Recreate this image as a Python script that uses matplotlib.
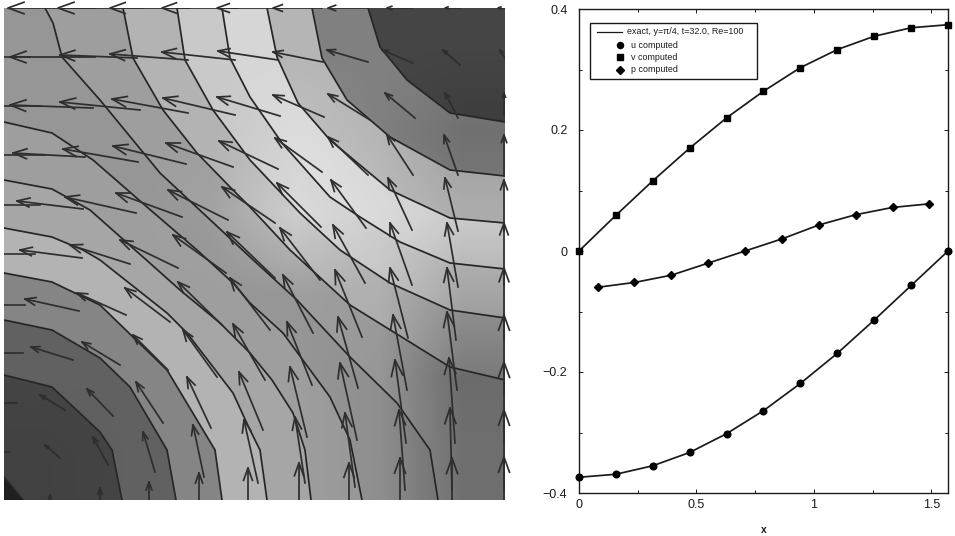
import numpy as np
import matplotlib
matplotlib.use("Agg")
import matplotlib.pyplot as plt
from matplotlib.patches import Rectangle

plt.rcParams['font.family'] = ['Liberation Sans', 'DejaVu Sans']

# right panel
x_uv = [0, 0.157, 0.314, 0.471, 0.628, 0.785, 0.942, 1.100, 1.257, 1.414, 1.571]
u_vals = [-0.374, -0.369, -0.355, -0.333, -0.302, -0.264, -0.219, -0.169, -0.114, -0.057, 0]
v_vals = [0, 0.059, 0.116, 0.170, 0.220, 0.264, 0.303, 0.333, 0.355, 0.369, 0.374]
x_p = [0.079, 0.236, 0.393, 0.550, 0.707, 0.864, 1.021, 1.178, 1.335, 1.492]
p_vals = [-0.060, -0.052, -0.040, -0.020, 0, 0.020, 0.043, 0.060, 0.072, 0.078]
x_ticks = [0, 0.5, 1, 1.5]
x_ticklabels = ['0', '0.5', '1', '1.5']
y_ticks = [-0.4, -0.2, 0, 0.2, 0.4]
y_ticklabels = ['\u22120.4', '\u22120.2', '0', '0.2', '0.4']
legend_labels = ['exact, y=\u03c0/4, t=32.0, Re=100', 'u computed', 'v computed', 'p computed']
legend_markers = [None, 'o', 's', 'D']

# left panel, contour lines as (x, y) readings, lower left corner first
contours = [
    [(4, 477), (23, 500)],
    [(4, 375), (52, 387), (100, 432), (112, 450), (122, 500)],
    [(4, 320), (52, 330), (100, 358), (130, 387), (167, 450), (176, 500)],
    [(4, 273), (52, 282), (100, 305), (133, 337), (167, 370), (215, 450), (222, 500)],
    [(4, 228), (52, 237), (83, 250), (100, 260), (167, 313), (187, 333), (233, 393), (250, 430), (260, 450), (267, 500)],
    [(4, 180), (52, 189), (90, 210), (143, 257), (180, 290), (220, 323), (250, 353), (272, 380), (293, 413), (305, 450), (311, 500)],
    [(4, 122), (52, 133), (93, 160), (147, 207), (197, 250), (233, 283), (250, 303), (283, 333), (330, 397), (350, 440), (362, 500)],
    [(45, 8), (53, 23), (62, 57), (100, 100), (160, 173), (250, 257), (297, 300), (350, 357), (397, 403), (430, 450), (438, 500)],
    [(123, 8), (133, 58), (163, 110), (197, 153), (230, 187), (250, 207), (290, 250), (350, 305), (450, 367), (505, 380)],
    [(177, 8), (185, 60), (213, 110), (250, 160), (300, 213), (340, 250), (390, 283), (450, 310), (505, 318)],
    [(222, 8), (230, 58), (250, 97), (282, 143), (330, 197), (360, 217), (400, 242), (450, 263), (505, 269)],
    [(267, 8), (277, 57), (298, 103), (330, 140), (390, 190), (450, 218), (505, 223)],
    [(312, 8), (322, 58), (347, 100), (390, 137), (450, 170), (505, 176)],
    [(368, 8), (380, 47), (407, 80), (450, 113), (505, 122)],
]
band_grays = [0.27, 0.38, 0.52, 0.70, 0.65, 0.62, 0.59, 0.62, 0.70, 0.79, 0.84, 0.71, 0.50, 0.27]
corner_gray = 0.13

# soft shading on top of the bands, rows y=8..500, columns x=4..505
dark_shade = [
    [0, 0, 0, 0, 0, 0],
    [0, 0, 0, 0, 0, 0.12],
    [0, 0, 0, 0, 0, 0.05],
    [0, 0, 0, 0, 0.02, 0.18],
    [0, 0, 0, 0, 0.05, 0.32],
    [0.05, 0, 0, 0, 0.05, 0.30],
]
light_shade = [
    [0, 0, 0, 0, 0, 0],
    [0, 0, 0, 0.15, 0, 0],
    [0, 0, 0.05, 0.35, 0.10, 0],
    [0, 0, 0, 0, 0, 0],
    [0, 0, 0, 0, 0, 0],
    [0, 0, 0, 0, 0, 0],
]

# left panel, arrows row by row
head_x = [
    [8, 58, 110, 162, 217, 273, 328, 387, 445, 498],
    [10, 60, 110, 162, 218, 273, 327, 382, 443, 500],
    [10, 60, 112, 163, 217, 273, 328, 385, 445, 504],
    [13, 63, 113, 166, 219, 275, 328, 387, 444, 504],
    [17, 65, 116, 168, 222, 277, 331, 388, 445, 504],
    [20, 70, 120, 173, 227, 280, 333, 390, 447, 504],
    [25, 77, 125, 178, 230, 283, 335, 390, 447, 504],
    [31, 82, 133, 183, 233, 287, 338, 393, 447, 504],
    [40, 87, 136, 187, 239, 290, 340, 395, 449, 504],
    [45, 93, 143, 193, 244, 295, 345, 399, 450, 504],
    [50, 100, 149, 199, 248, 299, 349, 400, 452, 504],
]
head_y = [
    [8, 8, 8, 8, 8, 8, 8, 8, 8, 8],
    [57, 55, 54, 52, 51, 52, 50, 50, 50, 50],
    [105, 102, 99, 98, 97, 95, 94, 93, 93, 93],
    [153, 149, 146, 143, 141, 138, 137, 135, 135, 135],
    [201, 197, 193, 190, 187, 183, 180, 178, 178, 180],
    [250, 245, 240, 235, 232, 228, 225, 223, 223, 223],
    [299, 293, 288, 282, 278, 275, 270, 268, 268, 268],
    [347, 342, 335, 330, 324, 322, 317, 315, 312, 315],
    [395, 389, 382, 377, 372, 367, 363, 360, 358, 362],
    [445, 437, 432, 425, 420, 417, 413, 410, 408, 410],
    [495, 488, 482, 473, 468, 463, 463, 458, 458, 457],
]
tail_x = [
    [95, 143, 190, 238, 282, 322, 368, 412, 460, 505],
    [95, 137, 188, 235, 278, 323, 368, 413, 460, 505],
    [93, 140, 188, 235, 280, 324, 370, 415, 458, 504],
    [85, 138, 186, 233, 278, 322, 368, 413, 458, 504],
    [83, 136, 182, 228, 275, 321, 366, 412, 458, 504],
    [82, 130, 178, 226, 275, 320, 365, 412, 458, 504],
    [79, 126, 170, 222, 270, 313, 362, 408, 456, 504],
    [73, 120, 168, 217, 265, 312, 358, 407, 457, 504],
    [65, 113, 163, 211, 263, 307, 357, 406, 455, 504],
    [60, 108, 155, 204, 258, 305, 355, 405, 452, 504],
    [50, 100, 149, 199, 248, 299, 349, 400, 452, 504],
]
tail_y = [
    [8, 8, 8, 8, 8, 8, 8, 8, 8, 8],
    [57, 58, 60, 60, 60, 62, 62, 63, 65, 58],
    [108, 110, 113, 115, 116, 117, 120, 118, 118, 115],
    [157, 162, 164, 167, 169, 172, 175, 175, 175, 175],
    [209, 213, 217, 220, 223, 227, 228, 230, 231, 231],
    [258, 264, 268, 273, 278, 280, 283, 285, 287, 285],
    [311, 315, 322, 325, 330, 333, 337, 338, 340, 340],
    [360, 365, 370, 377, 380, 385, 388, 390, 390, 395],
    [410, 416, 423, 428, 430, 437, 440, 443, 443, 443],
    [458, 465, 472, 477, 483, 483, 487, 490, 490, 490],
    [515, 520, 524, 526, 533, 530, 538, 538, 540, 537],
]
# tails of arrows that come in over the left edge
stub_y = [57, 106, 155, 205, 254, 305, 353, 403, 452]
stub_end = [30, 40, 45, 40, 35, 25, 23, 17, 10]

fig = plt.figure(figsize=(9.55, 5.36), dpi=100)
W, H = 955.0, 536.0

# left panel
ax = fig.add_axes([4 / W, (H - 500) / H, 501 / W, 492 / H])
ax.add_patch(Rectangle((4, 8), 501, 492, color=str(corner_gray), lw=0, zorder=1))

for line, g in zip(contours, band_grays):
    poly = list(line)
    if line[-1][1] == 500:
        poly.append((505, 500))
    poly.append((505, 8))
    if line[0][0] == 4:
        poly.append((4, 8))
    xs, ys = zip(*poly)
    ax.fill(xs, ys, color=str(g), lw=0, zorder=1)

# shading as two see-through images, black and white
for shade, level in [(dark_shade, 0.0), (light_shade, 1.0)]:
    a = np.array(shade, dtype=float)
    rgba = np.full(a.shape + (4,), level)
    rgba[..., 3] = a
    ax.imshow(rgba, extent=(4, 505, 500, 8), interpolation='bilinear',
              aspect='auto', zorder=2)

for line in contours:
    xs, ys = zip(*line)
    ax.plot(xs, ys, color='0.15', lw=1.25, zorder=3)

for sy, se in zip(stub_y, stub_end):
    ax.plot([4, se], [sy, sy], color='0.18', lw=1.2, zorder=4)

for r in range(len(head_x)):
    for hx, hy, tx, ty in zip(head_x[r], head_y[r], tail_x[r], tail_y[r]):
        dx, dy = tx - hx, ty - hy
        n = np.hypot(dx, dy)
        size = np.clip(0.19 * n, 3, 16)
        ux, uy = dx / n, dy / n
        ax.plot([hx, tx], [hy, ty], color='0.18', lw=1.25, zorder=4)
        bx = hx + ux * size
        by = hy + uy * size
        ax.plot([bx - uy * size * 0.36, hx, bx + uy * size * 0.36],
                [by + ux * size * 0.36, hy, by - ux * size * 0.36],
                color='0.18', lw=1.25, zorder=4, clip_on=False)

ax.set_xlim(4, 505)
ax.set_ylim(500, 8)
ax.axis('off')

# right panel
ax2 = fig.add_axes([579 / W, (H - 493) / H, 369 / W, 484 / H])
ax2.plot(x_uv, u_vals, color='0.1', lw=1.25, zorder=2)
ax2.plot(x_uv, v_vals, color='0.1', lw=1.25, zorder=2)
ax2.plot(x_p, p_vals, color='0.1', lw=1.25, zorder=2)
ax2.plot(x_uv, u_vals, 'o', color='k', ms=4.8, ls='none', clip_on=False, zorder=3)
ax2.plot(x_uv, v_vals, 's', color='k', ms=4.2, ls='none', clip_on=False, zorder=3)
ax2.plot(x_p, p_vals, 'D', color='k', ms=3.8, ls='none', zorder=3)
ax2.set_xlim(0, np.pi / 2)
ax2.set_ylim(-0.4, 0.4)
ax2.set_xticks(x_ticks)
ax2.set_xticklabels(x_ticklabels)
ax2.set_yticks(y_ticks)
ax2.set_yticklabels(y_ticklabels)
ax2.set_xticks([0.25, 0.75, 1.25], minor=True)
ax2.set_yticks([-0.3, -0.1, 0.1, 0.3], minor=True)
ax2.tick_params(which='both', direction='in', top=True, right=True, width=0.7,
                labelsize=9, colors='0.1')
ax2.tick_params(axis='x', which='major', pad=4.5)
ax2.tick_params(axis='y', which='major', pad=8.3)
ax2.tick_params(which='major', length=3)
ax2.tick_params(which='minor', length=2)
for s in ax2.spines.values():
    s.set_linewidth(1.0)
    s.set_color('0.1')
ax2.set_xlabel('x', fontsize=7.5, fontweight='bold', color='0.1', labelpad=10)

# legend box, laid out by hand in pixels of the panel
to_ax = lambda px, py: ((px - 579) / 369.0, (493 - py) / 484.0)
ax2.add_patch(Rectangle(to_ax(590, 79), 167 / 369.0, 56 / 484.0, transform=ax2.transAxes,
                        fc='white', ec='0.1', lw=1.0, zorder=5))
rows_y = [32, 45, 57, 70]
for label, mark, py in zip(legend_labels, legend_markers, rows_y):
    if mark is None:
        x0, y0 = to_ax(597, py)
        x1, y1 = to_ax(622, py)
        ax2.plot([x0, x1], [y0, y1], color='0.1', lw=0.9, transform=ax2.transAxes, zorder=6)
        tx = 627
    else:
        x0, y0 = to_ax(620, py)
        ax2.plot([x0], [y0], mark, color='k', ms=4.4 if mark != 'D' else 3.6,
                 transform=ax2.transAxes, zorder=6)
        tx = 631
    xt, yt = to_ax(tx, py)
    ax2.text(xt, yt, label, transform=ax2.transAxes, fontsize=6.4, va='center',
             ha='left', color='0.1', zorder=6)

fig.savefig('out.png', dpi=100)
